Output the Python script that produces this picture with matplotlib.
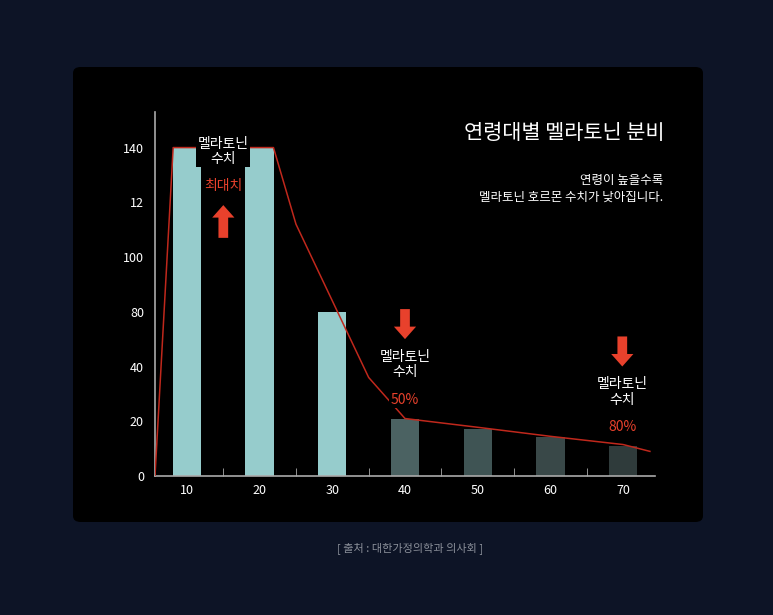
import matplotlib.pyplot as plt
from matplotlib import font_manager as fm
from matplotlib.patches import FancyBboxPatch

# make sure a Korean-capable font is registered
family = 'DejaVu Sans'
for f in fm.findSystemFonts():
    if 'CJK' in f and ('KR' in f or 'kr' in f or 'ttc' in f.lower()):
        try:
            fm.fontManager.addfont(f)
            family = fm.FontProperties(fname=f).get_name()
            if 'KR' in f or 'kr' in f:
                break
        except Exception:
            pass
plt.rcParams['font.family'] = [family, 'Noto Sans CJK KR', 'DejaVu Sans']

# data (heights in the chart's own drawn scale; tick labels as printed)
ages = ['10', '20', '30', '40', '50', '60', '70']
heights = [120, 120, 60, 20.8, 17, 14.3, 11]
bar_colors = ['#96cccc', '#96cccc', '#96cccc', '#4b6262', '#3f5454', '#394848', '#2f3b3b']
ytick_vals = [0, 20, 40, 60, 80, 100, 120]
ytick_labels = ['0', '20', '40', '80', '100', '12', '140']
line_x = [0.56, 0.81, 2.19, 2.5, 3.0, 3.5, 4.0, 5.0, 6.0, 7.0, 7.37]
line_y = [0, 120, 120, 92, 64, 36, 21, 17.8, 14.5, 11.5, 9]

bg = '#0d1426'
red = '#e8412c'

fig = plt.figure(figsize=(7.73, 6.15), dpi=100, facecolor=bg)
panel = FancyBboxPatch((73/773, 1-522/615), 630/773, 455/615,
                       boxstyle='round,pad=0,rounding_size=0.01',
                       transform=fig.transFigure, facecolor='black', edgecolor='none', zorder=-5)
fig.patches.append(panel)

ax = fig.add_axes([155/773, 1-476/615, 500/773, 364/615])
ax.set_zorder(2)
ax.set_facecolor('none')
x = list(range(1, len(ages)+1))
ax.bar(x, heights, width=0.39, color=bar_colors, zorder=2)
ax.plot(line_x, line_y, color='#c0281c', lw=1.1, zorder=3)
ax.set_xlim(0.56, 7.44)
ax.set_ylim(0, 133)
ax.set_xticks(x)
ax.set_xticklabels(ages)
ax.set_xticks([1.5, 2.5, 3.5, 4.5, 5.5, 6.5], minor=True)
ax.set_yticks(ytick_vals)
ax.set_yticklabels(ytick_labels)
ax.tick_params(axis='x', which='major', length=0, colors='white', labelsize=9, pad=6)
ax.tick_params(axis='x', which='minor', length=6, direction='in', color='#aaaaaa')
ax.tick_params(axis='y', length=0, colors='white', labelsize=9, pad=8)
for s in ['top', 'right']:
    ax.spines[s].set_visible(False)
for s in ['left', 'bottom']:
    ax.spines[s].set_color('#aaaaaa')
    ax.spines[s].set_linewidth(1.2)

box = dict(boxstyle='square,pad=0.1', fc='black', ec='none')

def label(xp, y, pct):
    ax.text(xp, y, '멜라토닌\n수치', color='white', fontsize=10, ha='center', va='top',
            linespacing=1.1, bbox=box, zorder=5)
    ax.text(xp, y-15.5, pct, color=red, fontsize=10, ha='center', va='top', bbox=box, zorder=5)

def arrow(xp, y0, y1):
    ax.annotate('', xy=(xp, y1), xytext=(xp, y0),
                arrowprops=dict(arrowstyle='simple,head_width=1.6,head_length=0.9,tail_width=0.7',
                                fc=red, ec='none'), zorder=5)

label(1.5, 124, '최대치')
arrow(1.5, 86, 100)
label(4.0, 46, '50%')
arrow(4.0, 62, 49)
label(6.99, 36, '80%')
arrow(6.99, 52, 39)

fig.text(665/773, 1-133/615, '연령대별 멜라토닌 분비', color='white', fontsize=15,
         ha='right', va='center')
fig.text(663/773, 1-189/615, '연령이 높을수록\n멜라토닌 호르몬 수치가 낮아집니다.', color='white',
         fontsize=9, ha='right', va='center', multialignment='right', linespacing=1.4)
fig.text(410/773, 1-548/615, '[ 출처 : 대한가정의학과 의사회 ]', color='#8a8f99',
         fontsize=8, ha='center', va='center')

fig.savefig('out.png', dpi=100, facecolor=bg)
